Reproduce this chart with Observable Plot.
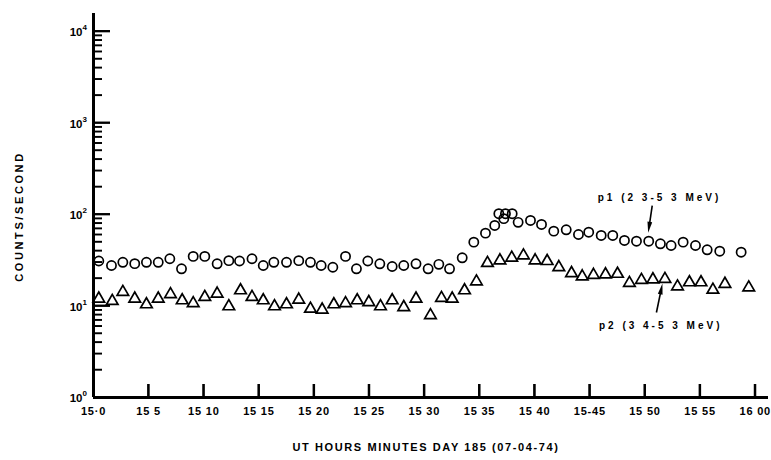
<!DOCTYPE html>
<html><head><meta charset="utf-8">
<script src="https://cdn.jsdelivr.net/npm/d3@7"></script>
<script src="https://cdn.jsdelivr.net/npm/@observablehq/plot@0.6"></script>
<style>
body{margin:0;background:#fff;}
#chart svg{display:block;background:#fff;font-family:'Liberation Sans','DejaVu Sans',sans-serif;font-weight:bold;}
</style></head><body><div id="chart"></div>
<script>
// p1 (circles): minutes after 15:00 UT, counts/second
const p1Minutes = [0.48,1.63,2.66,3.74,4.80,5.87,6.92,7.98,9.04,10.09,11.21,12.27,13.24,14.37,15.39,16.35,17.50,18.61,19.67,20.64,21.70,22.85,23.84,24.87,25.96,27.08,28.13,29.24,30.34,31.31,32.28,33.43,34.48,35.54,36.38,36.75,37.20,37.35,37.96,38.50,39.62,40.62,41.73,42.86,43.97,44.90,46.03,47.08,48.14,49.23,50.34,51.40,52.37,53.46,54.58,55.64,56.78,58.72];
const p1Counts = [31,27.7,30,29,30,30,32.8,25.5,34.8,34.8,28.9,31.3,31,32.8,27.7,30,30,31.3,30,27.7,26.5,34.8,25.5,31,28.9,27,27.7,28.9,25.5,28.5,25.5,33.6,49.8,62.5,75.8,102,90,102,102,82,86,77.8,65.7,68,60.4,64,59,59,52,51,51,47.8,45.8,49.8,45.8,41.1,39.7,38.7];
// p2 (triangles)
const p2Minutes = [0.48,1.70,2.66,3.74,4.80,5.87,6.98,8.04,9.04,10.09,11.21,12.27,13.33,14.37,15.39,16.41,17.50,18.61,19.67,20.73,21.79,22.85,23.91,24.96,26.02,27.08,28.13,29.24,30.55,31.55,32.52,33.64,34.72,35.72,36.85,37.92,38.98,40.04,41.13,42.19,43.34,44.31,45.33,46.42,47.51,48.59,49.68,50.72,51.81,52.95,54.03,55.08,56.16,57.25,59.41];
const p2Counts = [12.0,11.3,14.2,12.0,10.4,12.0,13.4,11.5,10.7,12.5,13.6,9.9,14.8,12.5,11.5,9.9,10.4,11.7,9.3,9.1,10.4,10.7,11.5,11.0,9.9,11.5,9.7,12.0,7.9,12.2,12.0,14.8,18.5,29.4,31.4,33.6,35.6,31.4,30.9,26.5,22.8,21,21.8,22.1,22.4,17.8,19.2,19.5,19.7,16.3,18.1,18.1,15.0,17.4,15.9];

const xTicks = [0,5,10,15,20,25,30,35,40,45,50,55,60];
const xTickLabels = ["15·0","15 5","15 10","15 15","15 20","15 25","15 30","15 35","15 40","15-45","15 50","15 55","16 00"];
const yTicks = [1,10,100,1000,10000];
const yTickBase = "10";
const yTickExponents = ["0","1","2","3","4"];
const yMinorMultipliers = [2,3,4,5,6,7,8,9];
const xTitle = "UT HOURS MINUTES DAY 185 (07-04-74)";
const yTitle = "COUNTS/SECOND";
const seriesLabels = ["p1 (2 3-5 3 MeV)", "p2 (3 4-5 3 MeV)"];
const xDomain = [0, 61.2];
const yDomain = [1, 15700];

const yMinorTicks = yTicks.slice(0, -1).flatMap(d => yMinorMultipliers.map(m => d * m));

const p1Idx = 50, p2Idx = 48;
const p1Point = [{x: p1Minutes[p1Idx], y: p1Counts[p1Idx]}];
const p2Point = [{x: p2Minutes[p2Idx], y: p2Counts[p2Idx]}];

const X0 = () => xDomain[0];
const Y0 = () => yDomain[0];

// layout
const W = 771, H = 460, mL = 93, mR = 3, mT = 13, mB = 63;
const frameW = W - mL - mR, frameH = H - mT - mB;
const majorLen = 17, minorLen = 9, xTickLen = 13;

// inward axis tick marks, drawn through the plot's own scales
function axisTicks(index, scales) {
  const g = d3.create("svg:g");
  const x0 = scales.x(xDomain[0]), y0 = scales.y(yDomain[0]);
  for (const t of yTicks) g.append("line").attr("x1", x0).attr("x2", x0 + majorLen).attr("y1", scales.y(t)).attr("y2", scales.y(t)).attr("stroke", "#000").attr("stroke-width", 1.8);
  for (const t of yMinorTicks) g.append("line").attr("x1", x0).attr("x2", x0 + minorLen).attr("y1", scales.y(t)).attr("y2", scales.y(t)).attr("stroke", "#000").attr("stroke-width", 1.4);
  for (const t of xTicks.slice(1)) g.append("line").attr("x1", scales.x(t)).attr("x2", scales.x(t)).attr("y1", y0).attr("y2", y0 - xTickLen).attr("stroke", "#000").attr("stroke-width", 2);
  return g.node();
}

// pointer arrows drawn through the plot's own scales
function pointerArrows(index, scales) {
  const g = d3.create("svg:g");
  const specs = [
    {pt: p1Point[0], tip: [0, -8], tail: [4, -35]},
    {pt: p2Point[0], tip: [-2, 5], tail: [-8, 34]}
  ];
  for (const s of specs) {
    const px = scales.x(s.pt.x), py = scales.y(s.pt.y);
    const tx = px + s.tip[0], ty = py + s.tip[1];
    const bx = px + s.tail[0], by = py + s.tail[1];
    const dx = bx - tx, dy = by - ty, L = Math.hypot(dx, dy);
    const ux = dx / L, uy = dy / L, nx = -uy, ny = ux;
    g.append("line").attr("x1", bx).attr("y1", by).attr("x2", tx + ux * 6).attr("y2", ty + uy * 6)
      .attr("stroke", "black").attr("stroke-width", 1.6);
    const hx = tx + ux * 11, hy = ty + uy * 11;
    g.append("path").attr("d", `M${tx},${ty}L${hx + nx * 2.4},${hy + ny * 2.4}L${hx - nx * 2.4},${hy - ny * 2.4}Z`)
      .attr("fill", "black");
  }
  return g.node();
}

const chart = Plot.plot({
  width: W, height: H,
  marginLeft: mL, marginRight: mR, marginTop: mT, marginBottom: mB,
  x: {domain: xDomain, axis: null},
  y: {type: "log", domain: yDomain, axis: null},
  marks: [
    Plot.ruleX([xDomain[0]], {strokeWidth: 3}),
    Plot.ruleY([yDomain[0]], {strokeWidth: 3.2}),
    axisTicks,
    Plot.tickY(yTicks, {y: d => d, insetRight: frameW - majorLen, stroke: "#000", strokeWidth: 1.8}),
    Plot.tickY(yMinorTicks, {y: d => d, insetRight: frameW - minorLen, stroke: "#000", strokeWidth: 1.4}),
    Plot.tickX(xTicks.slice(1), {x: d => d, insetTop: frameH - xTickLen, stroke: "#000", strokeWidth: 2}),
    Plot.text(xTicks, {x: d => d, y: Y0, text: (d, i) => xTickLabels[i], dy: 14, fontSize: 11, fontWeight: "bold"}),
    Plot.text(yTicks, {x: X0, y: d => d, text: () => yTickBase, textAnchor: "end", dx: -11, dy: 1, fontSize: 11.5, fontWeight: "bold"}),
    Plot.text(yTicks, {x: X0, y: d => d, text: (d, i) => yTickExponents[i], textAnchor: "start", dx: -11, dy: -4, fontSize: 8, fontWeight: "bold"}),
    Plot.text([yTitle], {frameAnchor: "left", textAnchor: "middle", dx: -74, dy: 11, rotate: -90, fontSize: 11, fontWeight: "bold"}),
    Plot.text([xTitle], {frameAnchor: "bottom", textAnchor: "middle", dx: -5, dy: 53, fontSize: 11, fontWeight: "bold"}),
    Plot.dot(p1Minutes, {x: d => d, y: (d, i) => p1Counts[i], r: 4.6, symbol: "circle", stroke: "black", strokeWidth: 1.7, fill: "none"}),
    Plot.dot(p2Minutes, {x: d => d, y: (d, i) => p2Counts[i], r: 4.3, symbol: "triangle", stroke: "black", strokeWidth: 1.7, fill: "none"}),
    Plot.text(p1Point, {x: "x", y: "y", text: () => seriesLabels[0], textAnchor: "start", dx: -51, dy: -43, fontSize: 10, fontWeight: "bold"}),
    Plot.text(p2Point, {x: "x", y: "y", text: () => seriesLabels[1], textAnchor: "start", dx: -66, dy: 47, fontSize: 10, fontWeight: "bold"}),
    pointerArrows
  ]
});
const spacing = new Map([[xTitle, "1.6px"], [yTitle, "2.6px"], [seriesLabels[0], "3px"], [seriesLabels[1], "3px"]]);
for (const l of xTickLabels) spacing.set(l, "0.8px");
d3.select(chart).selectAll("text").each(function() {
  const s = spacing.get(this.textContent);
  if (s) this.style.letterSpacing = s;
});
document.getElementById("chart").appendChild(chart);
</script></body></html>
